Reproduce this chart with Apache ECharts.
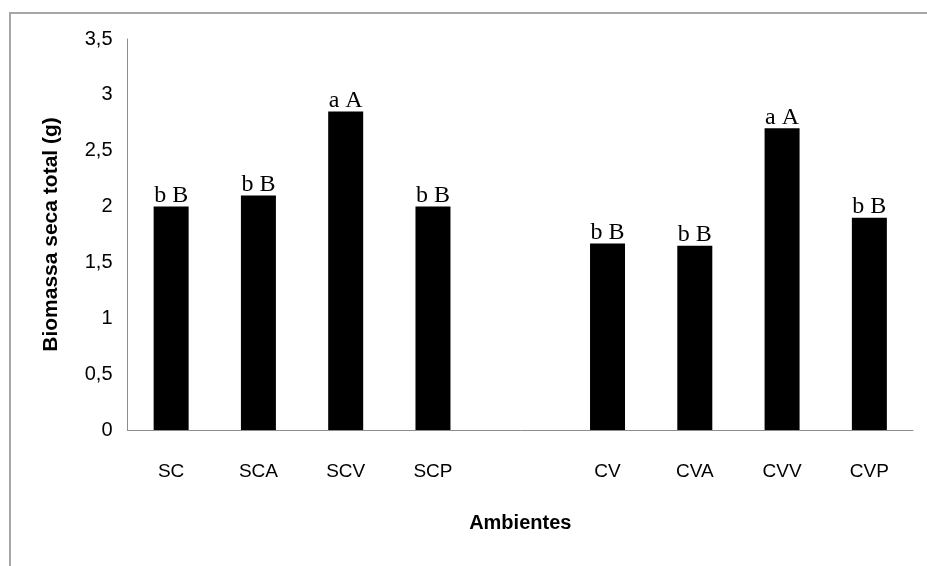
<!DOCTYPE html>
<html>
<head>
<meta charset="utf-8">
<script src="https://cdn.jsdelivr.net/npm/echarts@6/dist/echarts.min.js"></script>
<style>
  html, body { margin: 0; padding: 0; background: #fff; }
  #chart { width: 927px; height: 566px; }
</style>
</head>
<body>
<div id="chart"></div>
<script>
// Treatments (an empty slot separates the SC and CV groups)
const categories = ['SC', 'SCA', 'SCV', 'SCP', '', 'CV', 'CVA', 'CVV', 'CVP'];
// Total dry biomass (g) per treatment
const biomass = [2.0, 2.1, 2.85, 2.0, null, 1.67, 1.65, 2.7, 1.9];
// Significance letters shown above each bar
const letters = ['b B', 'b B', 'a A', 'b B', '', 'b B', 'b B', 'a A', 'b B'];
// Y axis scale
const yMin = 0, yMax = 3.5, yStep = 0.5;

const sans = "'Liberation Sans', Arial, sans-serif";
const serif = "'Liberation Serif', 'Times New Roman', serif";

const chart = echarts.init(document.getElementById('chart'), null, { renderer: 'canvas' });

chart.setOption({
  animation: false,
  backgroundColor: '#ffffff',
  graphic: [{
    type: 'rect',
    shape: { x: 10, y: 13, width: 1000, height: 1000 },
    style: { fill: 'none', stroke: '#a6a6a6', lineWidth: 2 },
    silent: true
  }],
  grid: { left: 127.5, right: 14, top: 39, bottom: 136, containLabel: false },
  xAxis: {
    type: 'category',
    data: categories,
    name: 'Ambientes',
    nameLocation: 'middle',
    nameGap: 83,
    nameTextStyle: { fontFamily: sans, fontWeight: 'bold', fontSize: 20, color: '#000' },
    axisLine: { lineStyle: { color: '#8c8c8c', width: 1 } },
    axisTick: { show: false },
    axisLabel: { fontFamily: sans, fontSize: 19, color: '#000', margin: 32, interval: 0 }
  },
  yAxis: {
    type: 'value',
    min: yMin, max: yMax, interval: yStep,
    name: 'Biomassa seca total (g)',
    nameLocation: 'middle',
    nameGap: 66,
    nameTextStyle: { fontFamily: sans, fontWeight: 'bold', fontSize: 21, color: '#000' },
    axisLine: { show: true, lineStyle: { color: '#8c8c8c', width: 1 } },
    axisTick: { show: false },
    splitLine: { show: false },
    axisLabel: {
      fontFamily: sans, fontSize: 20, color: '#000', margin: 15,
      formatter: v => String(v).replace('.', ',')
    }
  },
  series: [{
    type: 'bar',
    data: biomass,
    barWidth: 35,
    itemStyle: { color: '#000' },
    label: {
      show: true,
      position: 'top',
      distance: -1,
      fontFamily: serif,
      fontSize: 24,
      color: '#000',
      formatter: p => letters[p.dataIndex]
    }
  }]
});
</script>
</body>
</html>
